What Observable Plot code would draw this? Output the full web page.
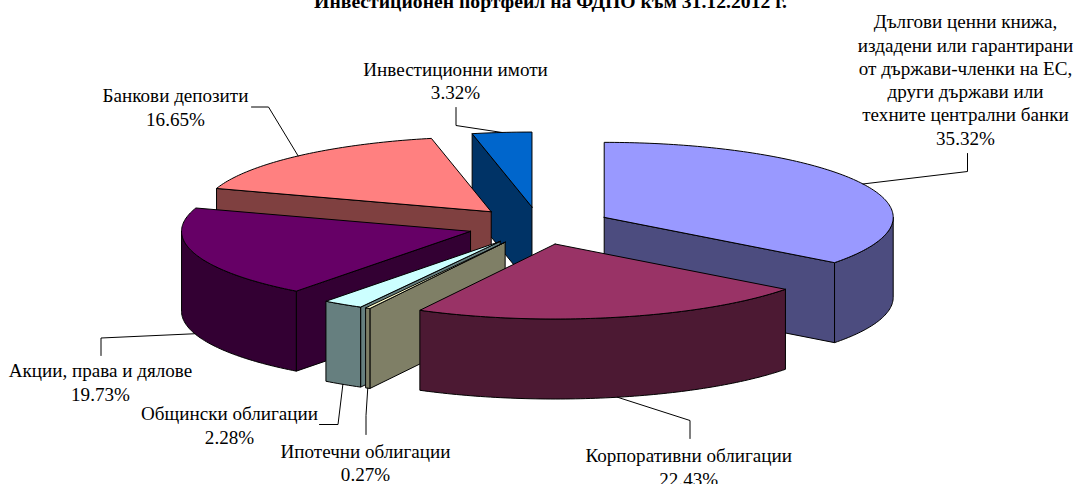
<!DOCTYPE html>
<html>
<head>
<meta charset="utf-8">
<script src="https://cdn.jsdelivr.net/npm/d3@7"></script>
<script src="https://cdn.jsdelivr.net/npm/@observablehq/plot@0.6"></script>
<style>html,body{margin:0;padding:0;background:#fff;overflow:hidden}svg{display:block}</style>
</head>
<body>
<div id="chart"></div>
<script>
const titleText = "Инвестиционен портфейл на ФДПО към 31.12.2012 г.";
const names = [
  "Дългови ценни книжа,\nиздадени или гарантирани\nот държави-членки на ЕС,\nдруги държави или\nтехните централни банки",
  "Корпоративни облигации",
  "Ипотечни облигации",
  "Общински облигации",
  "Акции, права и дялове",
  "Банкови депозити",
  "Инвестиционни имоти"
];
const shares = [35.32, 22.43, 0.27, 2.28, 19.73, 16.65, 3.32];
const topColors = ["#9999FF", "#993366", "#FFFFCC", "#CCFFFF", "#660066", "#FF8080", "#0066CC"];
const sideColors = ["#4C4C7F", "#4C1933", "#7F7F66", "#667F7F", "#330033", "#7F4040", "#003366"];

// Layout of the 3D pie (separate from the data)
const W = 1075, H = 484;
const pie = {cx: 539, cy: 225.2, a: 289, b: 75, depth: 80, explode: 0.25};
const labelAt = [[965, 78.5], [688.2, 466], [365, 461.5], [229, 424], [100, 381], [175, 106], [455, 79.5]];
const leaderEnds = [
  [[967, 171], [967, 153]],
  [[689.5, 420], [689.5, 438]],
  [[365.5, 415], [365.5, 434]],
  [[337.5, 424], [319, 424]],
  [[100.5, 337.5], [100.5, 355]],
  [[268, 106.5], [251, 106.5]],
  [[455.5, 125], [455.5, 107]]
];

const rad = d => d * Math.PI / 180;
const proj = (o, t, dz = 0) => ({
  x: o.x + pie.a * Math.sin(rad(t)),
  y: o.y - pie.b * Math.cos(rad(t)) + dz
});
const arc = (o, t0, t1, dz = 0) => {
  const n = Math.max(2, Math.ceil(Math.abs(t1 - t0)));
  return d3.range(n + 1).map(i => proj(o, t0 + (t1 - t0) * i / n, dz));
};
const closed = pts => [...pts, pts[0]];

let acc = 0;
const slices = shares.map((v, i) => {
  const t0 = acc / 100 * 360;
  acc += v;
  const t1 = acc / 100 * 360;
  const mid = (t0 + t1) / 2;
  const o = {
    x: pie.cx + pie.explode * pie.a * Math.sin(rad(mid)),
    y: pie.cy - pie.explode * pie.b * Math.cos(rad(mid))
  };
  return {i, v, t0, t1, mid, o};
});

// Paint from back to front
const marks = [];
const face = (pts, fill) => marks.push(Plot.line(closed(pts), {
  x: "x", y: "y", fill, stroke: "#000", strokeWidth: 1, strokeLinejoin: "miter"
}));
const wall = (s, t, fill) => {
  const p = proj(s.o, t), q = proj(s.o, t, pie.depth);
  face([s.o, p, q, {x: s.o.x, y: s.o.y + pie.depth}], fill);
};
[...slices].sort((p, q) => p.o.y - q.o.y).forEach(s => {
  const side = sideColors[s.i];
  if (Math.sin(rad(s.t1)) > 1e-6) wall(s, s.t1, side);
  if (Math.sin(rad(s.t0)) < -1e-6) wall(s, s.t0, side);
  const f0 = Math.max(s.t0, 90), f1 = Math.min(s.t1, 270);
  if (f1 > f0) face([...arc(s.o, f0, f1), ...arc(s.o, f1, f0, pie.depth)], side);
  face([s.o, ...arc(s.o, s.t0, s.t1)], topColors[s.i]);
});

// Leader lines start on the slice's outer edge at its mid-angle
slices.forEach(s => {
  const front = Math.cos(rad(s.mid)) < 0;
  const start = proj(s.o, s.mid, front ? pie.depth : 0);
  const pts = [start, ...leaderEnds[s.i].map(([x, y]) => ({x, y}))];
  marks.push(Plot.line(pts, {x: "x", y: "y", stroke: "#000", strokeWidth: 1, strokeLinejoin: "miter"}));
});

const font = {fontFamily: "'Liberation Serif', serif", fontSize: 19.1, fill: "#000", textAnchor: "middle", lineAnchor: "middle", lineHeight: 1.22};
const labels = slices.map(s => ({
  x: labelAt[s.i][0], y: labelAt[s.i][1],
  text: names[s.i] + "\n" + s.v.toFixed(2) + "%"
}));
marks.push(Plot.text(labels, {x: "x", y: "y", text: "text", ...font}));
marks.push(Plot.text([titleText], {x: () => 550, y: () => 0, text: d => d, ...font, fontSize: 19.7, fontWeight: "bold"}));

const chart = Plot.plot({
  width: W, height: H, margin: 0,
  style: {background: "#fff", overflow: "hidden"},
  x: {domain: [0, W], range: [0, W], axis: null},
  y: {domain: [0, H], range: [0, H], axis: null},
  marks
});
document.getElementById("chart").append(chart);
</script>
</body>
</html>
